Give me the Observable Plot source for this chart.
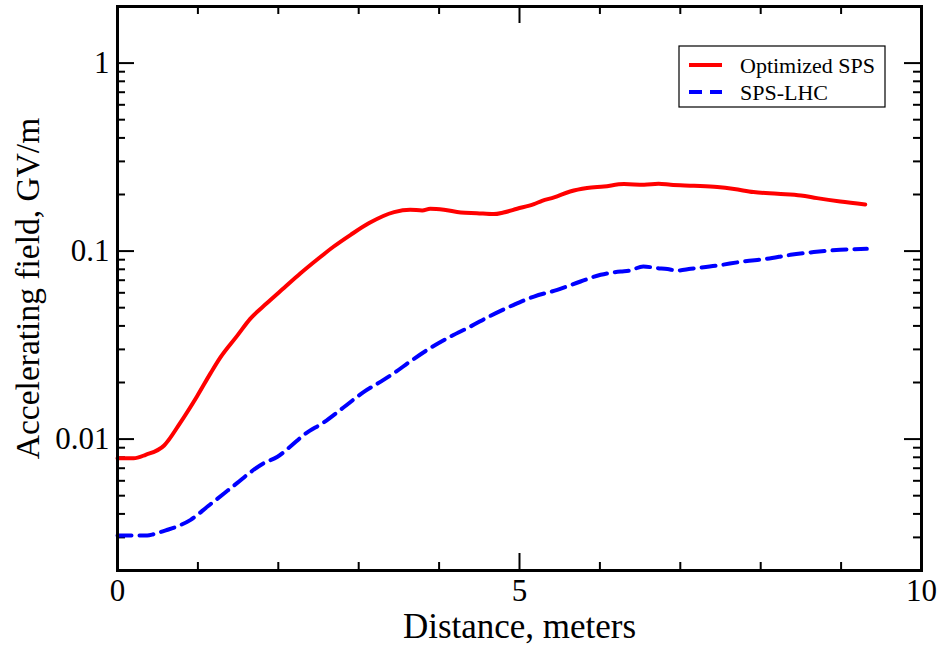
<!DOCTYPE html>
<html><head><meta charset="utf-8">
<script src="https://cdn.jsdelivr.net/npm/d3@7"></script>
<script src="https://cdn.jsdelivr.net/npm/@observablehq/plot@0.6"></script>
<style>body{margin:0;background:#fff}</style>
</head><body><div id="chart"></div>
<script>
// ---- data ----
const seriesNames = ["Optimized SPS", "SPS-LHC"];
const distRed = [0,0.20,0.35,0.58,0.78,0.99,1.16,1.28,1.49,1.65,1.86,2.07,2.28,2.48,2.69,2.90,3.13,3.44,3.64,3.79,3.89,4.06,4.27,4.47,4.68,4.80,4.97,5.18,5.28,5.43,5.63,5.84,6.05,6.30,6.55,6.73,6.88,7.17,7.46,7.67,7.91,8.21,8.50,8.70,8.99,9.30];
const fieldRed = [0.0079,0.0079,0.00825,0.00925,0.0122,0.0169,0.0225,0.0272,0.0355,0.0436,0.0529,0.0636,0.0764,0.0899,0.1058,0.1221,0.141,0.1612,0.166,0.1645,0.168,0.166,0.1604,0.159,0.1573,0.1604,0.168,0.1778,0.185,0.193,0.2075,0.2164,0.2206,0.2272,0.2253,0.228,0.2253,0.2225,0.219,0.2138,0.206,0.2017,0.1976,0.1913,0.1836,0.177];
const distBlue = [0,0.37,0.45,0.60,0.74,0.91,1.12,1.34,1.49,1.65,1.82,1.99,2.15,2.32,2.57,2.81,3.06,3.29,3.44,3.64,3.89,4.14,4.39,4.64,4.93,5.18,5.47,5.76,6.01,6.26,6.36,6.54,6.71,6.84,6.96,7.13,7.46,7.79,8.08,8.37,8.66,8.99,9.32];
const fieldBlue = [0.00307,0.00307,0.00312,0.00327,0.00343,0.00372,0.00438,0.00520,0.00585,0.00665,0.00745,0.00805,0.00913,0.01054,0.01231,0.01472,0.01778,0.0204,0.02244,0.02588,0.0305,0.0351,0.0397,0.0453,0.0518,0.0573,0.0622,0.0689,0.0748,0.0779,0.0786,0.0828,0.0812,0.0802,0.0788,0.0805,0.0838,0.0881,0.0910,0.0955,0.0988,0.1016,0.1028];
const xTickValues = [0, 5, 10];
const xTickLabels = ["0", "5", "10"];
const yTickValues = [0.01, 0.1, 1];
const yTickLabels = ["0.01", "0.1", "1"];
const xLabel = "Distance, meters";
const yLabel = "Accelerating field, GV/m";

// ---- layout ----
const W = 943, H = 647, mL = 117, mR = 22, mT = 6, mB = 77;
const innerW = W - mL - mR, innerH = H - mT - mB;
const font = '"Liberation Serif","Times New Roman",serif';
const RED = "#ff0000", BLUE = "#0000ff";

const red = distRed.map((x, i) => ({x, y: fieldRed[i]}));
const blue = distBlue.map((x, i) => ({x, y: fieldBlue[i]}));
const xMinor = d3.range(0, 11).filter(v => !xTickValues.includes(v));
const yMinor = [];
for (const d of [0.001, 0.01, 0.1, 1]) for (let k = 2; k <= 9; k++) { const v = +(k * d).toPrecision(3); if (v > 0.002 && v < 2) yMinor.push(v); }

const MAJ = 17, MIN = 8;
const chart = Plot.plot({
  width: W, height: H,
  marginLeft: mL, marginRight: mR, marginTop: mT, marginBottom: mB,
  style: {fontFamily: font, color: "black", background: "white"},
  x: {domain: [0, 10]},
  y: {type: "log", domain: [0.002, 2]},
  marks: [
    // ticks (inward, mirrored)
    Plot.tickX(xTickValues, {x: d => d, insetTop: innerH - MAJ, stroke: "black", strokeWidth: 2}),
    Plot.tickX(xTickValues, {x: d => d, insetBottom: innerH - MAJ, stroke: "black", strokeWidth: 2}),
    Plot.tickX(xMinor, {x: d => d, insetTop: innerH - MIN, stroke: "black", strokeWidth: 2}),
    Plot.tickX(xMinor, {x: d => d, insetBottom: innerH - MIN, stroke: "black", strokeWidth: 2}),
    Plot.tickY(yTickValues, {y: d => d, insetRight: innerW - MAJ, stroke: "black", strokeWidth: 2}),
    Plot.tickY(yTickValues, {y: d => d, insetLeft: innerW - MAJ, stroke: "black", strokeWidth: 2}),
    Plot.tickY(yMinor, {y: d => d, insetRight: innerW - MIN, stroke: "black", strokeWidth: 2}),
    Plot.tickY(yMinor, {y: d => d, insetLeft: innerW - MIN, stroke: "black", strokeWidth: 2}),
    // tick labels
    Plot.axisX(xTickValues, {tickSize: 0, tickPadding: 8, fontSize: 31, label: null,
      tickFormat: d => xTickLabels[xTickValues.indexOf(d)]}),
    Plot.axisY(yTickValues, {tickSize: 0, tickPadding: 8, fontSize: 31, label: null,
      tickFormat: d => yTickLabels[yTickValues.indexOf(d)]}),
    // axis titles
    Plot.text([xLabel], {text: d => d, frameAnchor: "bottom", dy: 56, lineAnchor: "middle", textAnchor: "middle", fontSize: 35}),
    Plot.text([yLabel], {text: d => d, frameAnchor: "left", dx: -89, rotate: -90, lineAnchor: "middle", textAnchor: "middle", fontSize: 33.5}),
    // data
    Plot.line(red, {x: "x", y: "y", stroke: RED, strokeWidth: 4, curve: "monotone-x"}),
    Plot.line(blue, {x: "x", y: "y", stroke: BLUE, strokeWidth: 4, strokeDasharray: "14,8", curve: "monotone-x"}),
    Plot.frame({stroke: "black", strokeWidth: 3})
  ]
});
document.getElementById("chart").appendChild(chart);

// ---- legend (box in the upper right, inside the frame) ----
const svg = d3.select(chart);
const lg = svg.append("g").attr("transform", "translate(679,46)");
lg.append("rect").attr("width", 206).attr("height", 61).attr("fill", "white").attr("stroke", "black").attr("stroke-width", 1.2);
const colors = [RED, BLUE], dashes = [null, "13,8"];
seriesNames.forEach((name, i) => {
  const y = 19 + i * 27;
  lg.append("line").attr("x1", 10).attr("x2", 43).attr("y1", y).attr("y2", y)
    .attr("stroke", colors[i]).attr("stroke-width", 4).attr("stroke-dasharray", dashes[i]);
  lg.append("text").attr("x", 61).attr("y", y).attr("dy", "0.35em").attr("text-anchor", "start")
    .attr("font-family", font).attr("font-size", 22).attr("fill", "black").text(name);
});
</script>
</body></html>
